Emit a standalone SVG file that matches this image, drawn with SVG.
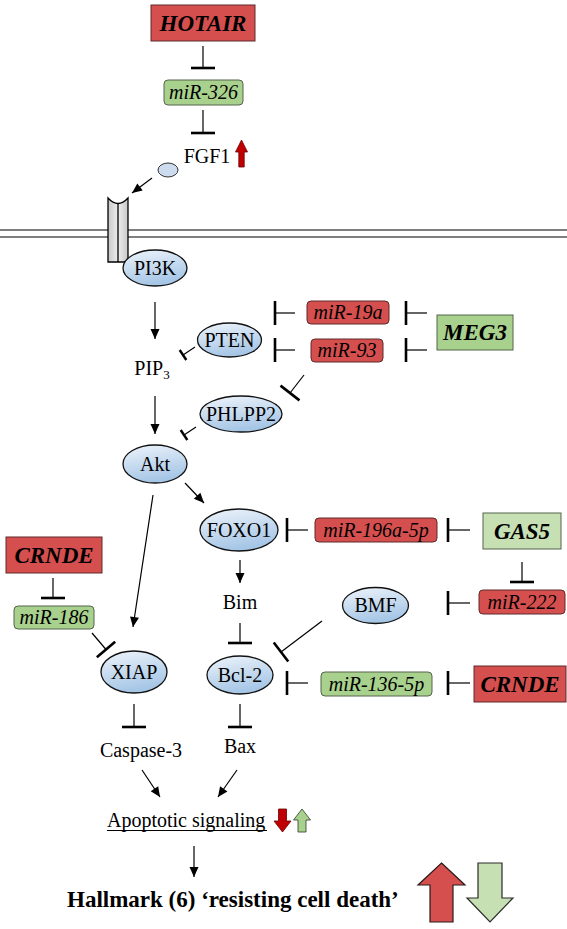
<svg xmlns="http://www.w3.org/2000/svg" width="567" height="929" viewBox="0 0 567 929">
<defs>
<linearGradient id="gBlue" x1="0" y1="0" x2="0.3" y2="1">
<stop offset="0" stop-color="#eef4fb"/>
<stop offset="1" stop-color="#a6c6e6"/>
</linearGradient>
<linearGradient id="gRec" x1="0" y1="0" x2="1" y2="0">
<stop offset="0" stop-color="#c8c8c8"/>
<stop offset="0.5" stop-color="#ededed"/>
<stop offset="1" stop-color="#c8c8c8"/>
</linearGradient>
<marker id="ah" markerUnits="userSpaceOnUse" markerWidth="10" markerHeight="10" viewBox="0 -5 10 10" refX="10" refY="0" orient="auto" overflow="visible">
<path d="M0,-4.5 L10,0 L0,4.5 Z" fill="#000"/>
</marker>
<marker id="tb" markerUnits="userSpaceOnUse" markerWidth="4" markerHeight="26" viewBox="-2 -13 4 26" refX="0" refY="0" orient="auto" overflow="visible">
<line x1="0" y1="-12" x2="0" y2="12" stroke="#000" stroke-width="2.6"/>
</marker>
<marker id="tbs" markerUnits="userSpaceOnUse" markerWidth="4" markerHeight="14" viewBox="-2 -7 4 14" refX="0" refY="0" orient="auto" overflow="visible">
<line x1="0" y1="-6" x2="0" y2="6" stroke="#000" stroke-width="2.4"/>
</marker>
</defs>
<style>
.lbl{font-family:"Liberation Serif","Times New Roman",serif;font-size:20px;fill:#000;text-anchor:middle}
.mir{font-family:"Liberation Serif","Times New Roman",serif;font-size:20px;font-style:italic;fill:#000;text-anchor:middle}
.lnc{font-family:"Liberation Serif","Times New Roman",serif;font-size:23px;font-style:italic;font-weight:bold;fill:#000;text-anchor:middle}
.red{fill:#d64f4f;stroke:#5e2b2b;stroke-width:1}
.grn{fill:#a9d18e;stroke:#55644a;stroke-width:1}
.lgrn{fill:#c6e0b4;stroke:#55644a;stroke-width:1}
.ell{fill:url(#gBlue);stroke:#111;stroke-width:1.3}
.act{fill:none;stroke:#000;stroke-width:1.2;marker-end:url(#ah)}
.inh{fill:none;stroke:#000;stroke-width:1.2;marker-end:url(#tb)}
.inhs{fill:none;stroke:#000;stroke-width:1.2;marker-end:url(#tbs)}
</style>
<rect width="567" height="929" fill="#fff"/>

<g id="membrane">
<line x1="0" y1="230" x2="567" y2="230" stroke="#555" stroke-width="1.3"/>
<line x1="0" y1="237" x2="567" y2="237" stroke="#555" stroke-width="1.3"/>
</g>

<g id="connectors">
<line class="inh" x1="203" y1="46" x2="203" y2="68"/>
<line class="inh" x1="203" y1="110" x2="203" y2="133"/>
<line class="act" x1="152" y1="178" x2="132" y2="193"/>
<line class="act" x1="155" y1="302" x2="155" y2="339"/>
<line class="inhs" x1="195" y1="347" x2="183" y2="355"/>
<line class="inh" x1="295" y1="313" x2="275" y2="313"/>
<line class="inh" x1="295" y1="350" x2="275" y2="350"/>
<line class="inh" x1="427" y1="313" x2="406" y2="313"/>
<line class="inh" x1="427" y1="350" x2="406" y2="350"/>
<line class="inh" x1="304" y1="375" x2="290" y2="393"/>
<line class="act" x1="155" y1="396" x2="155" y2="434"/>
<line class="inhs" x1="196" y1="427" x2="184" y2="435"/>
<line class="act" x1="185" y1="483" x2="204" y2="503"/>
<line class="act" x1="153" y1="495" x2="133" y2="627"/>
<line class="inh" x1="308" y1="530" x2="287" y2="530"/>
<line class="inh" x1="470" y1="530" x2="448" y2="530"/>
<line class="inh" x1="522" y1="562" x2="522" y2="582"/>
<line class="inh" x1="470" y1="603" x2="448" y2="603"/>
<line class="act" x1="240" y1="560" x2="240" y2="583"/>
<line class="inh" x1="240" y1="623" x2="240" y2="643"/>
<line class="inh" x1="322" y1="621" x2="281" y2="652"/>
<line class="inh" x1="308" y1="683" x2="287" y2="683"/>
<line class="inh" x1="470" y1="683" x2="448" y2="683"/>
<line class="inh" x1="53" y1="578" x2="53" y2="598"/>
<line class="inh" x1="92" y1="633" x2="106" y2="649.5"/>
<line class="inh" x1="134" y1="704" x2="134" y2="727"/>
<line class="inh" x1="240" y1="704" x2="240" y2="727"/>
<line class="act" x1="142" y1="770" x2="160" y2="797"/>
<line class="act" x1="237" y1="770" x2="218" y2="797"/>
<line class="act" x1="194" y1="846" x2="194" y2="877"/>
</g>

<g id="HOTAIR"><rect class="red" x="151" y="5" width="104" height="36"/><text class="lnc" x="203" y="31">HOTAIR</text></g>
<g id="miR-326"><rect class="grn" x="164" y="80" width="79" height="25" rx="4"/><text class="mir" x="203.5" y="99">miR-326</text></g>
<g id="FGF1">
<text class="lbl" x="207" y="163">FGF1</text>
<path d="M241.5,140 L247.5,152 L244.2,152 L244.2,167 L238.8,167 L238.8,152 L235.5,152 Z" fill="#c00000" stroke="#6b0000" stroke-width="0.8"/>
</g>
<g id="FGF1-ligand"><ellipse cx="168" cy="170" rx="10" ry="7" fill="#cddbee" stroke="#333" stroke-width="1"/></g>
<g id="receptor">
<path d="M108,198 Q118,209 128,198 L128,262 L108,262 Z" fill="url(#gRec)" stroke="#000" stroke-width="1.3"/>
<line x1="118" y1="203.5" x2="118" y2="262" stroke="#000" stroke-width="1.3"/>
</g>
<g id="PI3K"><ellipse class="ell" cx="155" cy="268" rx="32" ry="18"/><text class="lbl" x="155" y="275">PI3K</text></g>
<g id="PTEN"><ellipse class="ell" cx="229.5" cy="340" rx="32" ry="17"/><text class="lbl" x="229.5" y="347">PTEN</text></g>
<g id="PIP3"><text class="lbl" x="152" y="375">PIP<tspan font-size="13" dy="4">3</tspan></text></g>
<g id="miR-19a"><rect class="red" x="307" y="301" width="82" height="23" rx="4"/><text class="mir" x="348" y="319">miR-19a</text></g>
<g id="miR-93"><rect class="red" x="311" y="339" width="72" height="23" rx="4"/><text class="mir" x="347" y="357">miR-93</text></g>
<g id="MEG3"><rect class="grn" x="437" y="315" width="76" height="35"/><text class="lnc" x="475" y="340">MEG3</text></g>
<g id="PHLPP2"><ellipse class="ell" cx="241" cy="414" rx="41" ry="18"/><text class="lbl" x="241" y="421">PHLPP2</text></g>
<g id="Akt"><ellipse class="ell" cx="155" cy="464" rx="32" ry="19"/><text class="lbl" x="155" y="471">Akt</text></g>
<g id="FOXO1"><ellipse class="ell" cx="239" cy="530" rx="39" ry="21"/><text class="lbl" x="239" y="537">FOXO1</text></g>
<g id="miR-196a-5p"><rect class="red" x="315" y="518" width="122" height="24" rx="4"/><text class="mir" x="376" y="537">miR-196a-5p</text></g>
<g id="GAS5"><rect class="lgrn" x="483" y="513" width="78" height="36"/><text class="lnc" x="522" y="539">GAS5</text></g>
<g id="miR-222"><rect class="red" x="479" y="590" width="86" height="24" rx="4"/><text class="mir" x="522" y="609">miR-222</text></g>
<g id="BMF"><ellipse class="ell" cx="375.5" cy="605.5" rx="33" ry="18"/><text class="lbl" x="375.5" y="612">BMF</text></g>
<g id="Bim"><text class="lbl" x="240" y="609">Bim</text></g>
<g id="Bcl-2"><ellipse class="ell" cx="240" cy="675" rx="33" ry="19"/><text class="lbl" x="240" y="682">Bcl-2</text></g>
<g id="miR-136-5p"><rect class="grn" x="321" y="672" width="111" height="24" rx="4"/><text class="mir" x="376.5" y="691">miR-136-5p</text></g>
<g id="CRNDE-right"><rect class="red" x="474" y="666" width="92" height="36"/><text class="lnc" x="520" y="692">CRNDE</text></g>
<g id="CRNDE-left"><rect class="red" x="6" y="537" width="96" height="36"/><text class="lnc" x="54" y="563">CRNDE</text></g>
<g id="miR-186"><rect class="grn" x="14" y="606" width="80" height="23" rx="4"/><text class="mir" x="54" y="624">miR-186</text></g>
<g id="XIAP"><ellipse class="ell" cx="134" cy="672" rx="33" ry="21"/><text class="lbl" x="134" y="679">XIAP</text></g>
<g id="Caspase-3"><text class="lbl" x="141" y="757">Caspase-3</text></g>
<g id="Bax"><text class="lbl" x="240" y="753">Bax</text></g>
<g id="apoptotic">
<text class="lbl" x="107" y="827" style="text-anchor:start">Apoptotic signaling</text>
<line x1="107" y1="830.5" x2="267" y2="830.5" stroke="#000" stroke-width="1"/>
<path d="M278.5,809 L286.5,809 L286.5,821 L291,821 L282.5,832 L274,821 L278.5,821 Z" fill="#c00000" stroke="#6b0000" stroke-width="0.8"/>
<path d="M302,809 L310.5,820 L306,820 L306,832 L298,832 L298,820 L293.5,820 Z" fill="#a9d18e" stroke="#3d4d33" stroke-width="0.9"/>
</g>
<g id="hallmark">
<text x="67" y="907" font-family="'Liberation Serif','Times New Roman',serif" font-size="23" font-weight="bold" fill="#000">Hallmark (6) ‘resisting cell death’</text>
<path d="M441.5,863 L465,885 L453,885 L453,922 L430,922 L430,885 L418,885 Z" fill="#d64f4f" stroke="#2a1a1a" stroke-width="1.2"/>
<path d="M478,863 L502,863 L502,898 L513,898 L490,922 L467,898 L478,898 Z" fill="#c6e0b4" stroke="#2a2a2a" stroke-width="1.2"/>
</g>
</svg>
